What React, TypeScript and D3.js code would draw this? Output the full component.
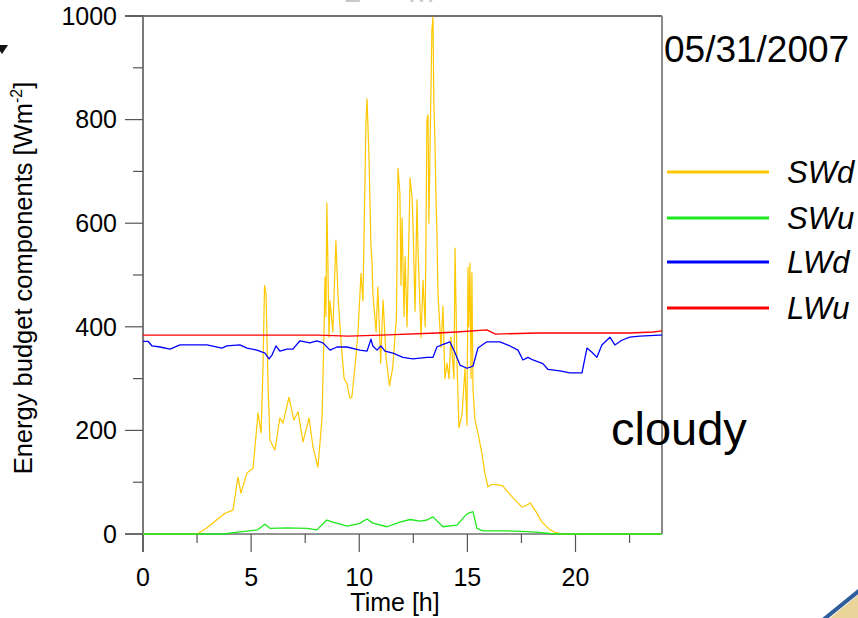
import React from "react";
import * as d3 from "d3";

// ---- data ----
const swdTime = [0,2.5,2.9,3.79,4.16,4.39,4.53,4.81,5.09,5.32,5.46,5.55,5.62,5.69,5.78,5.87,6.1,6.33,6.47,6.75,6.98,7.17,7.4,7.68,7.86,8.09,8.28,8.37,8.42,8.46,8.5,8.55,8.6,8.65,8.78,8.86,8.92,9.02,9.16,9.3,9.43,9.57,9.66,9.8,9.94,10.08,10.17,10.31,10.36,10.45,10.54,10.59,10.63,10.78,10.86,10.99,11.1,11.24,11.4,11.55,11.72,11.79,11.88,11.93,11.98,12.07,12.12,12.21,12.35,12.44,12.49,12.58,12.67,12.72,12.86,12.95,13.05,13.13,13.18,13.22,13.27,13.36,13.41,13.45,13.5,13.55,13.59,13.64,13.78,13.87,13.96,14.06,14.15,14.24,14.38,14.43,14.52,14.61,14.75,14.89,14.98,15.03,15.07,15.12,15.17,15.21,15.26,15.35,15.49,15.67,15.81,15.95,16.14,16.41,16.64,16.87,17.2,17.53,17.76,17.9,18.13,18.45,18.82,19.14,19.4,24];
const swdValue = [0,0,10,40,46,110,79,118,127,234,195,323,480,462,290,181,162,224,214,264,220,236,178,224,168,129,225,390,496,420,639,525,380,450,390,494,566,458,370,300,290,262,265,322,388,503,450,795,840,728,558,525,465,390,477,330,452,340,286,322,420,706,658,480,610,420,535,400,687,651,593,430,645,542,380,490,400,799,809,600,735,973,998,832,760,645,587,465,360,440,300,330,300,380,300,552,330,205,230,320,210,515,400,523,300,504,280,220,195,156,118,91,96,95,93,81,66,52,56,60,46,23,8,2,0,0];

const swuTime = [0,3.7,4.48,5.3,5.64,5.87,6.66,7.58,8.04,8.5,8.78,9.43,10.0,10.36,10.63,11.28,11.88,12.35,12.81,13.13,13.41,13.87,14.52,14.89,15.03,15.26,15.44,15.72,16.83,18.03,18.82,19.3,24];
const swuValue = [0,0,4,8,19,11,12,11,8,27,23,15,20,29,21,14,23,28,25,27,33,14,17,35,40,43,11,6,6,4,1,0,0];

const lwdTime = [0,0.23,0.42,0.79,1.25,1.71,2.96,3.65,3.88,4.48,4.81,5.27,5.64,5.83,5.97,6.15,6.33,6.66,6.93,7.26,7.72,8.04,8.32,8.65,8.97,9.43,10.03,10.36,10.54,10.63,10.82,11.0,11.19,11.56,12.02,12.48,13.13,13.41,13.59,13.82,14.19,14.42,14.66,14.98,15.26,15.49,15.9,16.5,16.97,17.34,17.57,17.8,18.03,18.49,18.72,19.28,19.74,20.3,20.53,20.76,20.99,21.22,21.59,21.82,22.14,22.51,22.98,23.9,24];
const lwdValue = [372,372,363,361,357,365,365,359,363,365,359,355,349,338,346,363,353,357,357,373,369,373,369,355,361,361,355,353,376,363,355,363,353,349,341,338,341,341,361,365,371,351,326,320,324,359,371,371,363,355,336,341,336,329,318,315,311,311,359,351,341,365,380,365,374,380,382,384,384];

const lwuTime = [0,4.0,8.1,9.5,11.0,13.6,14.5,15.9,16.3,18.3,22.5,23.6,24];
const lwuValue = [384,384,384,382,384,388,390,394,386,388,388,390,392];

const seriesNames = ["SWd", "SWu", "LWd", "LWu"];
const seriesColors = ["#FFC800", "#1EE81E", "#0000FF", "#FF0000"];

const xMajorTicks = [0, 5, 10, 15, 20];
const xMinorTicks = [2.5, 7.5, 12.5, 17.5, 22.5];
const yMajorTicks = [0, 200, 400, 600, 800, 1000];
const yMinorTicks = [100, 300, 500, 700, 900];

const FONT = '"Liberation Sans", Arial, Helvetica, sans-serif';

export default function App() {
  const x = d3.scaleLinear().domain([0, 24]).range([143, 662]);
  const y = d3.scaleLinear().domain([0, 1000]).range([534, 16]);
  const line = d3
    .line<[number, number]>()
    .x((d) => x(d[0]))
    .y((d) => y(d[1]));

  const zipped = (t: number[], v: number[]) =>
    t.map((tt, i) => [tt, v[i]] as [number, number]);

  const series = [
    zipped(swdTime, swdValue),
    zipped(swuTime, swuValue),
    zipped(lwdTime, lwdValue),
    zipped(lwuTime, lwuValue),
  ];
  const widths = [1.2, 1.3, 1.3, 1.3];

  const legendY = [172, 218, 262, 308];

  return (
    <svg
      width={858}
      height={618}
      style={{ position: "absolute", left: 0, top: 0, background: "#fff" }}
      fontFamily={FONT}
    >
      <rect x={0} y={0} width={858} height={618} fill="#fff" />
      {/* cut-off title remnants */}
      <text x={343} y={2} fontSize={32} fill="#c8c8c8">L</text>
      <text x={408} y={2} fontSize={32} fill="#c8c8c8">M</text>

      {/* small arrow head top-left */}
      <polygon points="0,45 8,45 2,54 0,51" fill="#111" />

      {/* frame */}
      <line x1={125} y1={16} x2={662} y2={16} stroke="#6e6e6e" strokeWidth={2} />
      <line x1={143} y1={16} x2={143} y2={552} stroke="#7a7a7a" strokeWidth={2} />
      <line x1={662} y1={16} x2={662} y2={534} stroke="#8a8a8a" strokeWidth={2} />
      <line x1={125} y1={534} x2={662} y2={534} stroke="#6e6e6e" strokeWidth={1.5} />

      {/* y ticks */}
      {yMajorTicks.map((t) => (
        <g key={"ym" + t}>
          <line x1={125} x2={143} y1={y(t)} y2={y(t)} stroke="#555" strokeWidth={1.2} />
          <text x={117} y={y(t)} dy="0.35em" textAnchor="end" fontSize={25} fill="#000">
            {t}
          </text>
        </g>
      ))}
      {yMinorTicks.map((t) => (
        <line key={"yn" + t} x1={133} x2={143} y1={y(t)} y2={y(t)} stroke="#555" strokeWidth={1.2} />
      ))}

      {/* x ticks */}
      {xMajorTicks.map((t) => (
        <g key={"xm" + t}>
          <line x1={x(t)} x2={x(t)} y1={534} y2={552} stroke="#555" strokeWidth={1.2} />
          <text x={x(t)} y={586} textAnchor="middle" fontSize={25} fill="#000">
            {t}
          </text>
        </g>
      ))}
      {xMinorTicks.map((t) => (
        <line key={"xn" + t} x1={x(t)} x2={x(t)} y1={534} y2={543} stroke="#555" strokeWidth={1.2} />
      ))}

      {/* axis titles */}
      <text x={395} y={611} textAnchor="middle" fontSize={25} fill="#000">
        Time [h]
      </text>
      <text
        transform="translate(32,278) rotate(-90)"
        textAnchor="middle"
        fontSize={25.5}
        fill="#000"
      >
        Energy budget components [Wm
        <tspan fontSize={16} dy={-10}>-2</tspan>
        <tspan dy={10}>]</tspan>
      </text>

      {/* data lines */}
      {series.map((s, i) => (
        <path
          key={seriesNames[i]}
          d={line(s) || ""}
          fill="none"
          stroke={seriesColors[i]}
          strokeWidth={widths[i]}
          strokeLinejoin="round"
        />
      ))}

      {/* legend */}
      {seriesNames.map((n, i) => (
        <g key={"lg" + n}>
          <line x1={667} x2={769} y1={legendY[i]} y2={legendY[i]} stroke={seriesColors[i]} strokeWidth={3} />
          <text x={787} y={legendY[i]} dy="0.36em" fontSize={31} fontStyle="italic" fill="#000">
            {n}
          </text>
        </g>
      ))}

      {/* annotations */}
      <text x={664} y={62} fontSize={37} fill="#000">05/31/2007</text>
      <text x={611} y={445} fontSize={47} fill="#000">cloudy</text>

      {/* bottom-right decoration */}
      <polygon points="830,618 858,595 858,618" fill="#EBD49A" />
      <line x1={823} y1={620} x2={860} y2={590} stroke="#2F5E9A" strokeWidth={4} />
    </svg>
  );
}
